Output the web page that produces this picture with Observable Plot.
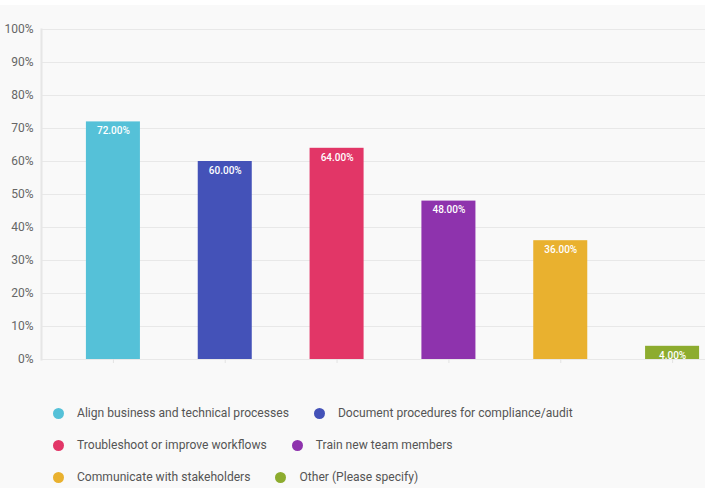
<!DOCTYPE html>
<html>
<head>
<meta charset="utf-8">
<script src="https://cdn.jsdelivr.net/npm/d3@7"></script>
<script src="https://cdn.jsdelivr.net/npm/@observablehq/plot@0.6"></script>
<style>
  html, body { margin: 0; padding: 0; background: #ffffff; }
  #wrap { margin-top: 5px; background: #f9f9f9; width: 705px; height: 483px; overflow: hidden; font-family: Roboto, "Noto Sans", sans-serif; }
  #chart svg { display: block; }
  #legend { padding: 17px 0 0 53px; }
  .row { display: flex; align-items: center; height: 32px; }
  .item { display: flex; align-items: center; margin-right: 25px; }
  .dot { width: 11px; height: 11px; border-radius: 50%; margin-right: 13px; }
  .lab { font-size: 12.1px; color: #555; white-space: nowrap; }
</style>
</head>
<body>
<div id="wrap">
  <div id="chart"></div>
  <div id="legend"></div>
</div>
<script>
// Survey responses: share of respondents choosing each purpose
const categories = [
  "Align business and technical processes",
  "Document procedures for compliance/audit",
  "Troubleshoot or improve workflows",
  "Train new team members",
  "Communicate with stakeholders",
  "Other (Please specify)"
];
const shares = [0.72, 0.60, 0.64, 0.48, 0.36, 0.04];
const colors = ["#55c1d8", "#4452b8", "#e23667", "#8e33ad", "#e9b12f", "#8dac2f"];
const yTicks = [0, 0.1, 0.2, 0.3, 0.4, 0.5, 0.6, 0.7, 0.8, 0.9, 1];

const rows = categories.map((c, i) => ({category: c, share: shares[i]}));

const chart = Plot.plot({
  width: 705,
  height: 375,
  marginLeft: 41,
  marginRight: 0,
  marginTop: 24,
  marginBottom: 21,
  style: {background: "transparent", fontFamily: "Roboto, 'Noto Sans', sans-serif"},
  x: {domain: categories, range: [57, 728], paddingInner: 0.517, paddingOuter: 0.2585, align: 0.5, round: false, label: null},
  y: {domain: [0, 1], label: null},
  color: {domain: categories, range: colors},
  marks: [
    Plot.gridY(yTicks, {stroke: "#e8e8e8", strokeOpacity: 1}),
    Plot.frame({anchor: "left", stroke: "#e6e6e6", strokeWidth: 2}),
    Plot.axisX({tickSize: 4, tickFormat: () => "", stroke: "#e3e3e3", label: null}),
    Plot.axisY(yTicks, {tickSize: 0, tickPadding: 8, tickFormat: d3.format(".0%"), fontSize: 12, fill: "#666", label: null}),
    Plot.barY(rows, {x: "category", y: "share", fill: "category"}),
    Plot.text(rows, {
      x: "category", y: "share",
      text: d => d3.format(".2%")(d.share),
      dy: 9, fill: "white", fontSize: 10, fontWeight: 500
    })
  ]
});
document.getElementById("chart").append(chart);

// Legend: two entries per row
const legend = document.getElementById("legend");
for (let i = 0; i < categories.length; i += 2) {
  const row = document.createElement("div");
  row.className = "row";
  for (let j = i; j < Math.min(i + 2, categories.length); j++) {
    const item = document.createElement("div");
    item.className = "item";
    const dot = document.createElement("span");
    dot.className = "dot";
    dot.style.background = colors[j];
    const lab = document.createElement("span");
    lab.className = "lab";
    lab.textContent = categories[j];
    item.append(dot, lab);
    row.append(item);
  }
  legend.append(row);
}
</script>
</body>
</html>
